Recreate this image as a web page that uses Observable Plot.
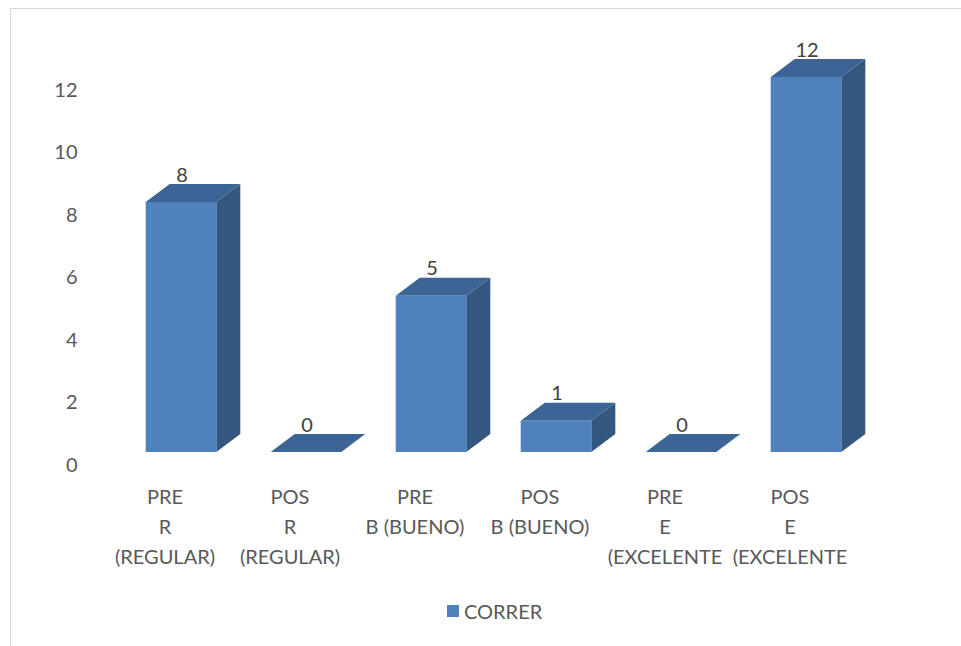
<!DOCTYPE html>
<html>
<head>
<meta charset="utf-8">
<script src="https://cdn.jsdelivr.net/npm/d3@7"></script>
<script src="https://cdn.jsdelivr.net/npm/@observablehq/plot@0.6"></script>
<style>
  html, body { margin: 0; padding: 0; background: #fff; overflow: hidden; }
  body { width: 961px; height: 646px; position: relative; font-family: Lato, "Open Sans", sans-serif; }
  #frame { position: absolute; left: 10px; top: 8px; width: 1000px; height: 700px; border: 1px solid #d9d9d9; box-sizing: border-box; }
  #chart { position: absolute; left: 0; top: 0; }
  #legend { position: absolute; left: 447px; top: 599px; display: flex; align-items: center; font-size: 20px; color: #595959; }
  #legend .sw { width: 12px; height: 12px; background: #4F81BD; margin-right: 5px; }
</style>
</head>
<body>
<div id="frame"></div>
<div id="chart"></div>
<div id="legend"><span class="sw"></span><span id="lgtext"></span></div>
<script>
const categories = ["PRE\nR\n(REGULAR)", "POS\nR\n(REGULAR)", "PRE\nB (BUENO)", "POS\nB (BUENO)", "PRE\nE\n(EXCELENTE", "POS\nE\n(EXCELENTE"];
const values = [8, 0, 5, 1, 0, 12];
const yTicks = [0, 2, 4, 6, 8, 10, 12];
const seriesName = "CORRER";
document.getElementById("lgtext").textContent = seriesName;

const data = categories.map((c, i) => ({cat: c, value: values[i]}));

const FRONT = "#4F81BD", TOP = "#3C6494", SIDE = "#34577F";
const insetL = 43.7, insetR = 10.7, drop = 13, depthX = 24, depthY = 18;

let facesDrawn = false;
function buildFaces(xf, yf, bw) {
  const g = d3.create("svg:g");
  for (const d of data) {
    const xs = xf(d.cat);
    const l = xs + insetL, r = xs + bw - insetR;
    const yb = yf(0) - drop, yt = yf(d.value) - drop;
    g.append("path").attr("fill", SIDE)
      .attr("d", `M${r},${yb}L${r + depthX},${yb - depthY}L${r + depthX},${yt - depthY}L${r},${yt}Z`);
    g.append("path").attr("fill", TOP)
      .attr("d", `M${l},${yt}L${l + depthX},${yt - depthY}L${r + depthX},${yt - depthY}L${r},${yt}Z`);
  }
  return g;
}
function faces(index, scales, vals, dimensions, context, next) {
  const front = next(index, scales, vals, dimensions, context);
  const xf = scales.x, yf = scales.y;
  const bw = xf(categories[1]) - xf(categories[0]);
  const g = buildFaces(xf, yf, bw);
  g.node().appendChild(front);
  facesDrawn = true;
  return g.node();
}

const plot = Plot.plot({
  width: 961,
  height: 600,
  marginLeft: 100,
  marginRight: 108,
  marginTop: 90,
  marginBottom: 135,
  style: {fontFamily: "Lato, 'Open Sans', sans-serif", fontSize: "20px", color: "#595959", background: "transparent"},
  x: {type: "band", domain: categories, padding: 0},
  y: {domain: [0, 12]},
  marks: [
    Plot.axisY({ticks: yTicks, tickSize: 0, tickPadding: 23, label: null, fill: "#595959", fontSize: 20}),
    Plot.axisX({tickSize: 0, tickPadding: 17, label: null, lineHeight: 1.5, fill: "#595959", fontSize: 20}),
    Plot.barY(data, {x: "cat", y: "value", fill: FRONT, insetLeft: insetL, insetRight: insetR, dy: -drop, render: faces}),
    Plot.text(data, {x: "cat", y: "value", text: d => String(d.value), dx: 17, dy: -drop - depthY - 3, lineAnchor: "bottom", fill: "#404040", fontSize: 20})
  ]
});
if (!facesDrawn) {
  const sx = plot.scale("x"), sy = plot.scale("y");
  const g = buildFaces(sx.apply, sy.apply, sx.bandwidth);
  const svg = plot.tagName.toLowerCase() === "svg" ? plot : plot.querySelector("svg");
  const bars = svg.querySelector("g[aria-label='bar']");
  svg.insertBefore(g.node(), bars);
}
document.getElementById("chart").appendChild(plot);
</script>
</body>
</html>
